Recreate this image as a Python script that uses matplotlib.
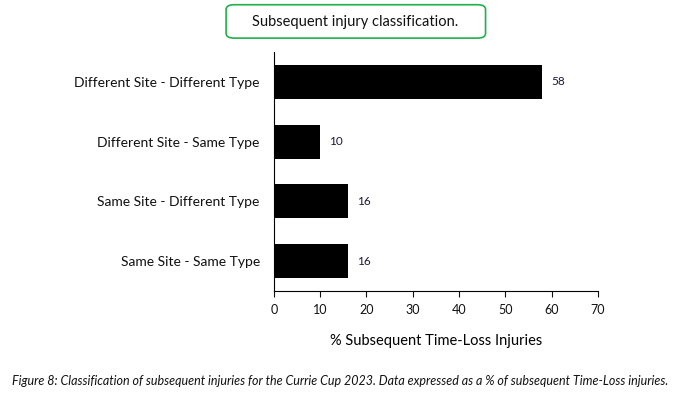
import matplotlib.pyplot as plt
from matplotlib.patches import FancyBboxPatch

plt.rcParams['font.family'] = ['Lato', 'DejaVu Sans']

categories = ['Same Site - Same Type', 'Same Site - Different Type',
              'Different Site - Same Type', 'Different Site - Different Type']
values = [16, 16, 10, 58]
x_ticks = [0, 10, 20, 30, 40, 50, 60, 70]

fig = plt.figure(figsize=(6.81, 3.93), dpi=100)
ax = fig.add_axes([0.402, 0.2595, 0.476, 0.608])

ax.barh(range(len(categories)), values, height=0.57, color='black')
for i, v in enumerate(values):
    ax.text(v + 1.9, i, f"{v}", va='center', ha='left', fontsize=8.5, color='#1a1a3a')

ax.set_xlim(0, 70)
ax.set_ylim(-0.5, len(categories) - 0.5)
ax.set_xticks(x_ticks)
ax.set_yticks(range(len(categories)))
ax.set_yticklabels(categories, fontsize=10, color='#111111')
ax.tick_params(axis='y', length=0, pad=10)
ax.tick_params(axis='x', length=4, direction='out', labelsize=9, pad=5, colors='#111111')
ax.spines['top'].set_visible(False)
ax.spines['right'].set_visible(False)
ax.set_xlabel('% Subsequent Time-Loss Injuries', fontsize=10.5, labelpad=13)

title_box = FancyBboxPatch((0.332, 0.903), 0.381, 0.085,
                           boxstyle='round,pad=0,rounding_size=0.012',
                           transform=fig.transFigure, facecolor='white',
                           edgecolor='#22b04b', linewidth=1.2)
fig.patches.append(title_box)
fig.text(0.522, 0.945, 'Subsequent injury classification.', ha='center', va='center',
         fontsize=10.5, color='#111111')

fig.text(0.5, 0.03, 'Figure 8: Classification of subsequent injuries for the Currie Cup 2023. '
         'Data expressed as a % of subsequent Time-Loss injuries.',
         fontsize=9.0, style='italic', ha='center', va='center', color='#111111')

fig.savefig('out.png', dpi=100)
